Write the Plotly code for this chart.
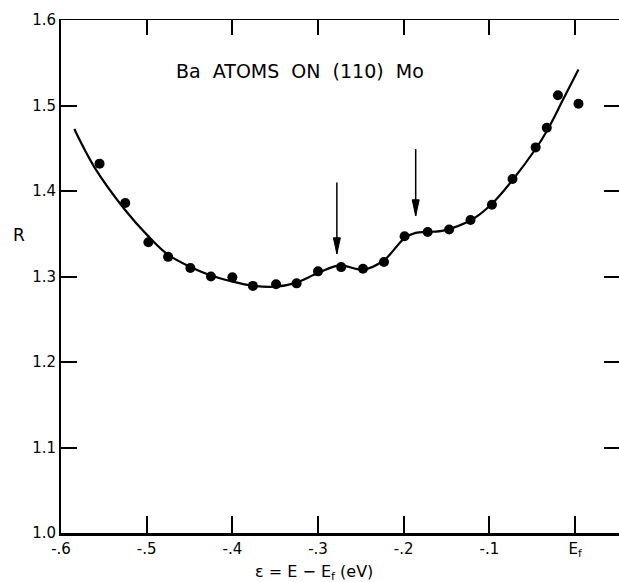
import plotly.graph_objects as go

# Measured reflection ratio R versus energy below the Fermi level
eps_pts = [-0.555, -0.525, -0.498, -0.475, -0.449, -0.425, -0.400, -0.376,
           -0.349, -0.325, -0.300, -0.273, -0.2475, -0.223, -0.199, -0.172,
           -0.147, -0.122, -0.097, -0.073, -0.046, -0.033, -0.020, 0.004]
r_pts = [1.432, 1.386, 1.340, 1.323, 1.310, 1.300, 1.299, 1.289,
         1.291, 1.292, 1.306, 1.311, 1.309, 1.317, 1.347, 1.352,
         1.355, 1.366, 1.384, 1.414, 1.451, 1.474, 1.512, 1.502]

# Smooth curve drawn through the data
eps_fit = [-0.5845, -0.5611, -0.5261, -0.4988, -0.4755, -0.4483, -0.4249,
           -0.4016, -0.3782, -0.351, -0.328, -0.300, -0.275, -0.2475,
           -0.223, -0.199, -0.186, -0.172, -0.1526, -0.1214, -0.0981,
           -0.0736, -0.0455, -0.0319, -0.0144, 0.004]
r_fit = [1.4724, 1.428, 1.379, 1.3478, 1.3258, 1.3108, 1.3012,
         1.2945, 1.2895, 1.288, 1.292, 1.304, 1.313, 1.308,
         1.319, 1.345, 1.351, 1.352, 1.354, 1.366, 1.384,
         1.412, 1.450, 1.472, 1.506, 1.542]

# Arrows marking structure in the curve
arrow_eps = [-0.278, -0.186]
arrow_top = [1.410, 1.449]
arrow_tip = [1.3265, 1.371]

x_tickvals = [-0.6, -0.5, -0.4, -0.3, -0.2, -0.1, 0.0]
x_ticktext = ["-.6", "-.5", "-.4", "-.3", "-.2", "-.1", "E<sub>f</sub>"]
y_tickvals = [1.0, 1.1, 1.2, 1.3, 1.4, 1.5, 1.6]
y_ticktext = ["1.0", "1.1", "1.2", "1.3", "1.4", "1.5", "1.6"]

FONT = "DejaVu Sans"
X_RANGE = [-0.6, 0.0513]
Y_RANGE = [1.0, 1.6]
W, H = 619, 582
M_L, M_R, M_T, M_B = 61, 0, 20, 49

fig = go.Figure()

fig.add_trace(go.Scatter(
    x=eps_fit, y=r_fit, mode="lines",
    line=dict(color="black", width=2.2, shape="spline", smoothing=1.0),
    hoverinfo="skip", showlegend=False))

fig.add_trace(go.Scatter(
    x=eps_pts, y=r_pts, mode="markers",
    marker=dict(color="black", size=10),
    showlegend=False))

# Invisible trace that activates the mirrored top/right axes
fig.add_trace(go.Scatter(x=[X_RANGE[0]], y=[Y_RANGE[0]], xaxis="x2", yaxis="y2",
                         mode="markers", marker=dict(opacity=0),
                         hoverinfo="skip", showlegend=False))

for xe, yt, yp in zip(arrow_eps, arrow_top, arrow_tip):
    fig.add_shape(type="line", x0=xe, x1=xe, y0=yt, y1=yp,
                  line=dict(color="black", width=1.5))
    fig.add_shape(type="path", xref="x", yref="y",
                  xsizemode="pixel", ysizemode="pixel",
                  xanchor=xe, yanchor=yp,
                  path="M0,0 L-3.5,16 L3.5,16 Z",
                  fillcolor="black", line=dict(color="black", width=1))

pw, ph = W - M_L - M_R, H - M_T - M_B


def px_to_paper(px, py):
    return (px - M_L) / pw, (H - M_B - py) / ph


def add_label(text, px, py, size):
    ax, ay = px_to_paper(px, py)
    fig.add_annotation(x=ax, y=ay, xref="paper", yref="paper", text=text,
                       showarrow=False, xanchor="center", yanchor="middle",
                       font=dict(family=FONT, size=size, color="black"))


add_label("Ba  ATOMS  ON  (110)  Mo", 300, 71, 19)
add_label("R", 19, 235, 17)
add_label("\u03b5 = E \u2212 E<sub>f</sub> (eV)", 314, 572, 16)

axis_font = dict(family=FONT, size=15, color="black")

fig.update_layout(
    width=W, height=H,
    margin=dict(l=M_L, r=M_R, t=M_T, b=M_B),
    paper_bgcolor="white", plot_bgcolor="white",
    font=axis_font,
    xaxis=dict(range=X_RANGE, tickvals=x_tickvals, ticktext=x_ticktext,
               ticks="inside", ticklen=17, tickwidth=1.5, tickcolor="black",
               showline=True, linecolor="black", linewidth=2.5,
               showgrid=False, zeroline=False, tickfont=axis_font),
    yaxis=dict(range=Y_RANGE, tickvals=y_tickvals, ticktext=y_ticktext,
               ticks="inside", ticklen=16, tickwidth=1.5, tickcolor="black",
               showline=True, linecolor="black", linewidth=2,
               showgrid=False, zeroline=False, tickfont=axis_font),
    xaxis2=dict(range=X_RANGE, tickvals=x_tickvals, overlaying="x", side="top",
                ticks="inside", ticklen=15, tickwidth=1.5, tickcolor="black",
                showline=True, linecolor="black", linewidth=1.2,
                showticklabels=False, showgrid=False, zeroline=False),
    yaxis2=dict(range=Y_RANGE, tickvals=y_tickvals, overlaying="y", side="right",
                ticks="inside", ticklen=15, tickwidth=1.5, tickcolor="black",
                showline=False, showticklabels=False, showgrid=False,
                zeroline=False),
)

fig.write_html("out.html")
